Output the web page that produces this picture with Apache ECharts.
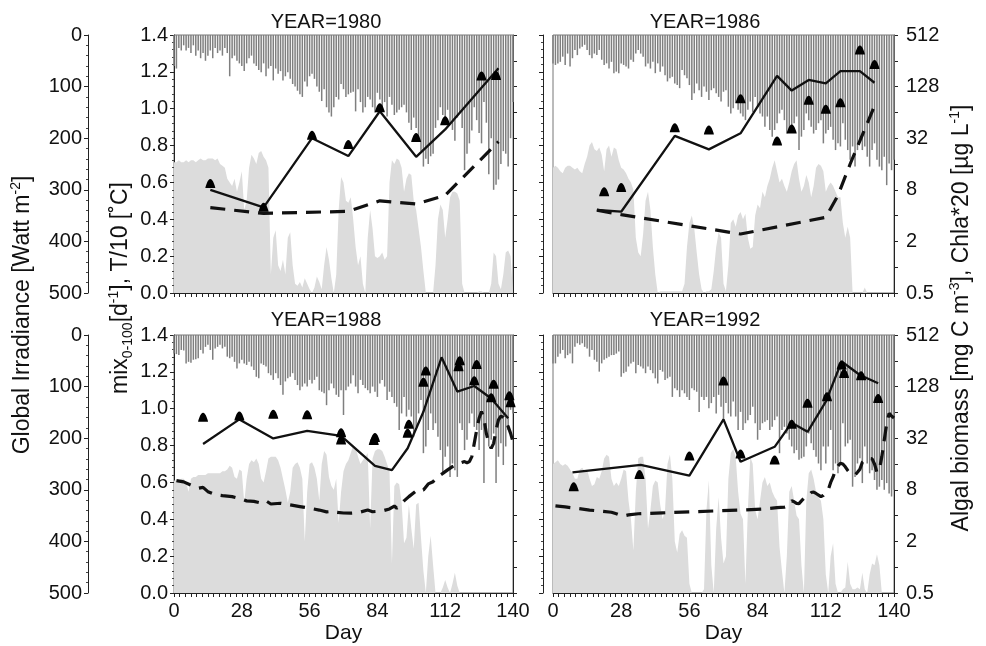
<!DOCTYPE html>
<html>
<head>
<meta charset="utf-8">
<script src="https://cdn.jsdelivr.net/npm/echarts@6/dist/echarts.min.js"></script>
<style>
  html, body { margin: 0; padding: 0; background: #fff; }
  #chart { width: 986px; height: 646px; }
</style>
</head>
<body>
<div id="chart"></div>
<script>
// ---- Data (day index = array index for daily series) ----
const YEARS = ['1980', '1986', '1988', '1992'];

// Daily global irradiance [W m-2], day 0..140
const irr1980 = [60,65,25,30,20,30,25,35,20,40, 30,45,35,50,40,30,45,25,35,30, 40,25,35,80,45,40,50,55,60,70,
  55,45,40,55,60,68,72,55,80,65, 60,88,65,75,70,88,80,72,85,95, 100,108,115,120,90,100,80,75,85,100,
  110,128,105,140,150,158,140,120,125,95, 105,120,115,112,110,148,105,130,150,140, 120,125,140,150,112,125,140,130,158,120,
  135,155,150,145,140,135,150,170,184,160, 180,205,225,255,240,250,235,230,180,165, 140,155,160,145,170,184,205,160,150,180,
  262,230,210,185,140,165,190,210,130,170, 270,200,300,290,280,250,225,230,255,200, 130];
const irr1986 = [55,58,55,52,42,58,36,61,45,29, 39,26,23,19,29,39,45,36,39,29, 48,58,55,65,52,74,71,74,55,58,
  61,65,48,52,36,29,36,42,61,55, 65,52,74,55,71,61,78,90,84,81, 94,97,103,68,78,84,97,126,113,94,
  107,120,100,110,126,107,103,113,120,129, 110,107,139,152,142,132,145,152,158,165, 145,129,149,120,139,152,158,178,158,184,
  197,184,171,152,145,165,191,184,178,171, 158,223,197,184,152,165,178,191,184,171, 165,210,191,184,178,203,223,210,216,171,
  203,223,242,216,255,223,203,223,216,236, 255,223,210,242,255,262,236,291,249,262, 242];
const irr1988 = [36,37,39,29,30,55,52,54,48,47, 45,29,36,23,19,29,48,26,23,19, 26,23,42,45,42,52,65,55,48,55,
  58,52,61,68,81,84,55,58,61,74, 78,87,74,84,97,116,90,84,81,74, 87,97,107,100,94,100,87,94,87,81,
  107,110,113,136,107,94,103,116,120,107, 155,107,100,94,78,100,113,87,97,103, 107,113,100,110,120,94,87,100,126,110,
  120,132,139,184,152,120,158,145,158,197, 178,152,126,229,216,184,152,184,171,197, 223,268,236,216,275,249,262,275,171,184,
  223,203,171,152,178,184,223,184,287,184, 216,203,191,287,236,210,252,216,184,145, 152];
const irr1992 = [55,55,42,36,29,45,39,36,55,23, 16,19,16,23,26,42,29,48,52,71, 55,48,45,42,39,39,36,32,81,74,
  71,61,55,52,74,58,61,65,74,61, 68,74,84,94,68,71,87,84,81,120, 103,107,120,107,113,120,126,103,107,110,
  149,120,126,120,142,132,120,152,116,139, 165,132,152,158,129,158,184,149,184,171, 165,155,139,171,203,184,171,168,165,184,
  178,165,158,229,184,178,191,203,216,229, 223,242,239,236,216,191,210,223,236,249, 262,216,249,216,184,262,249,268,249,171,
  216,210,203,294,275,249,239,287,216,249, 268,262,281,300,294,281,300,287,307,313, 300];

// Daily mixing rate mix0-100 [d-1], day 0..140
const mix1980 = [0.71,0.71,0.72,0.71,0.71,0.72,0.71,0.72,0.72,0.71, 0.72,0.73,0.72,0.72,0.73,0.73,0.73,0.72,0.73,0.70,
  0.69,0.68,0.62,0.60,0.58,0.62,0.55,0.60,0.66,0.45, 0.50,0.68,0.75,0.73,0.70,0.76,0.77,0.74,0.72,0.68,
  0.10,0.30,0.34,0.15,0.12,0.18,0.10,0.30,0.33,0.15, 0.05,0.04,0.06,0.03,0.08,0.05,0.02,0.00,0.03,0.09,
  0.06,0.02,0.15,0.25,0.18,0.08,0.00,0.10,0.45,0.63, 0.60,0.50,0.49,0.52,0.40,0.25,0.15,0.20,0.05,0.00,
  0.30,0.45,0.35,0.20,0.19,0.20,0.22,0.18,0.20,0.60, 0.72,0.70,0.73,0.72,0.68,0.55,0.62,0.65,0.64,0.50,
  0.45,0.35,0.25,0.12,0.00,0.00,0.00,0.00,0.15,0.40, 0.48,0.45,0.30,0.40,0.52,0.55,0.55,0.54,0.50,0.05,
  0,0,0,0,0,0,0.01,0.01,0,0, 0,0.05,0.22,0.20,0.05,0.02,0.10,0.22,0.23,0.20, 0];
const mix1986 = [0.68,0.69,0.68,0.66,0.65,0.68,0.69,0.69,0.68,0.67, 0.68,0.66,0.65,0.70,0.74,0.80,0.82,0.78,0.77,0.79,
  0.75,0.66,0.78,0.80,0.74,0.79,0.78,0.72,0.68,0.67, 0.65,0.62,0.60,0.56,0.30,0.22,0.20,0.32,0.50,0.55,
  0.45,0.25,0.10,0.00,0.01,0.01,0.01,0.01,0.01,0.01, 0.01,0.01,0.01,0.01,0.05,0.25,0.38,0.42,0.35,0.22,
  0.10,0.02,0.00,0.01,0.01,0.02,0.12,0.25,0.33,0.30, 0.05,0.01,0.15,0.38,0.40,0.36,0.42,0.44,0.40,0.43,
  0.30,0.24,0.25,0.42,0.48,0.46,0.55,0.52,0.58,0.62, 0.68,0.72,0.66,0.60,0.62,0.58,0.55,0.60,0.66,0.70,
  0.72,0.62,0.55,0.58,0.64,0.60,0.52,0.58,0.68,0.70, 0.69,0.66,0.55,0.58,0.60,0.58,0.55,0.52,0.52,0.38,
  0.30,0.36,0.30,0.00,0,0,0,0,0.03,0, 0,0,0,0,0,0,0,0,0,0, 0];
const mix1988 = [0.61,0.61,0.61,0.62,0.62,0.60,0.55,0.62,0.63,0.63, 0.64,0.64,0.64,0.64,0.65,0.65,0.65,0.65,0.65,0.65,
  0.66,0.66,0.67,0.69,0.68,0.63,0.62,0.67,0.66,0.49, 0.62,0.70,0.72,0.71,0.73,0.70,0.62,0.60,0.66,0.73,
  0.74,0.74,0.74,0.72,0.68,0.62,0.56,0.49,0.55,0.68, 0.70,0.71,0.68,0.62,0.28,0.55,0.70,0.71,0.68,0.62,
  0.50,0.70,0.77,0.75,0.63,0.58,0.56,0.62,0.38,0.55, 0.66,0.70,0.72,0.76,0.80,0.79,0.74,0.70,0.72,0.74,
  0.76,0.35,0.73,0.77,0.78,0.78,0.77,0.74,0.70,0.66, 0.16,0.58,0.60,0.59,0.49,0.27,0.30,0.48,0.35,0.24,
  0.48,0.49,0.30,0.12,0.00,0.20,0.31,0.15,0.00,0.00, 0.00,0.03,0.07,0.03,0.00,0.05,0.11,0.04,0,0,
  0,0,0,0,0,0,0,0,0,0, 0,0,0,0,0,0,0,0,0,0, 0];
const mix1992 = [0.70,0.71,0.72,0.70,0.69,0.70,0.69,0.67,0.65,0.62, 0.62,0.67,0.68,0.66,0.67,0.62,0.58,0.59,0.63,0.62,
  0.66,0.73,0.75,0.74,0.62,0.58,0.60,0.58,0.62,0.67, 0.66,0.50,0.40,0.23,0.55,0.73,0.74,0.74,0.62,0.35,
  0.45,0.58,0.61,0.60,0.48,0.40,0.45,0.70,0.75,0.62, 0.28,0.22,0.32,0.34,0.31,0.30,0.05,0,0,0,
  0,0,0.02,0.45,0.61,0.15,0,0.35,0.52,0.30, 0.16,0.20,0.62,0.76,0.78,0.74,0.55,0.43,0.40,0.05,
  0.45,0.74,0.70,0.45,0.40,0.50,0.60,0.63,0.58,0.60, 0.55,0.52,0.50,0.25,0.12,0,0.20,0.55,0.58,0.50,
  0.42,0.40,0.15,0,0.50,0.65,0.67,0.62,0.55,0.52, 0.50,0.40,0.10,0,0.20,0.27,0.05,0,0,0.02,
  0.03,0.17,0.05,0.02,0.02,0.03,0.02,0.11,0.02,0, 0.10,0.16,0.15,0.21,0.15,0,0,0,0,0, 0];

// Water temperature T/10 [°C] as [day, value]
const temp1980 = [[15,0.463],[37,0.432],[72,0.443],[85,0.50],[100,0.483],[112,0.530],[134,0.821]];
const temp1986 = [[18,0.45],[28,0.425],[77,0.32],[112,0.411],[117,0.53],[122,0.70],[132,1.015]];
const temp1988 = [[1,0.61],[4,0.603],[7,0.585],[10,0.568],[12,0.573],[14,0.55],[17,0.534],[20,0.528],[24,0.523],
  [27,0.513],[30,0.50],[33,0.497],[36,0.488],[38,0.50],[40,0.483],[44,0.487],[48,0.478],[52,0.469],[56,0.46],
  [60,0.45],[63,0.44],[64,0.441],[65,0.436],[66,0.44],[70,0.434],[73,0.433],[76,0.436],[80,0.45],[82,0.441],
  [86,0.445],[89,0.456],[91,0.472],[92,0.46],[93,0.47],[95,0.50],[97,0.523],[100,0.554],[101,0.563],[103,0.559],
  [105,0.592],[107,0.604],[109,0.631],[111,0.649],[113,0.668],[115,0.686],[117,0.70],[120,0.713],[121,0.707],
  [122,0.713],[123,0.74],[124,0.812],[125,0.885],[126,0.948],[127,0.984],[128,0.948],[129,0.866],[130,0.812],
  [131,0.785],[132,0.812],[133,0.885],[134,0.939],[135,0.96],[136,0.953],[137,0.93],[138,0.903],[139,0.866],[140,0.821]];
const temp1992 = [[1,0.473],[5,0.467],[10,0.459],[15,0.45],[20,0.444],[24,0.438],[26,0.43],[28,0.42],[29,0.418],
  [31,0.424],[35,0.43],[45,0.435],[56,0.44],[66,0.445],[77,0.45],[86,0.456],[92,0.463],[95,0.466],[96,0.47],
  [97,0.485],[98,0.50],[99,0.495],[100,0.486],[101,0.485],[102,0.50],[103,0.514],[104,0.52],[106,0.545],[107,0.548],
  [108,0.54],[110,0.523],[111,0.53],[112,0.545],[113,0.56],[114,0.60],[115,0.63],[116,0.67],[117,0.69],[118,0.704],
  [119,0.70],[120,0.685],[121,0.665],[122,0.65],[124,0.64],[125,0.655],[126,0.672],[127,0.71],[129,0.731],
  [131,0.728],[132,0.70],[133,0.655],[134,0.67],[135,0.74],[136,0.83],[137,0.92],[138,0.975],[139,0.96],[140,0.95]];

// Simulated algal biomass [mg C m-3] as [day, value]
const model1980 = [[15,8],[37,5],[57,32],[72,19.8],[85,66],[100,19.4],[112,40.5],[134,209]];
const model1986 = [[18,4.65],[28,4.44],[50,34],[64,23.7],[77,36.5],[92,171],[98,115],[105,153],[112,140],[118,194],[126,194],[132,142]];
const model1988 = [[12,27.4],[27,53],[41,31.8],[55,39],[69,34],[83,15.2],[90,13.6],[96.5,24.4],[103,65],[110.5,281],[117,112],[124,130],[131,93],[138,54.6]];
const model1992 = [[8,12.8],[36,15.6],[56,11.7],[70,53],[77,17],[91,25.4],[98,48.5],[104.5,38],[112,85.6],[118.5,251],[126,175],[133.5,140]];

// Observed Chla*20 [µg L-1] as [day, value]
const obs1980 = [[15,9.5],[37,5],[57,34.6],[72,27],[85,72.6],[100,32.7],[112,51],[127,170],[133,173]];
const obs1986 = [[21,7.6],[28,8.5],[50,42.5],[64,40],[77,92.6],[92,29.7],[98,41],[105,89],[112,69.5],[118,83],[126,342],[132,231]];
const obs1988 = [[12,56],[27,58],[41,61],[55,60],[69,37],[69,30.4],[83,32.7],[82.5,30],[97,46.5],[96.5,36.5],[104,194],[103,144],
  [118,257],[117.5,218],[125,232],[124,150],[132,136],[131,95],[138.5,100],[139,83]];
const obs1992 = [[8.5,8.7],[35.5,12.1],[56,19.8],[70,149],[77,21],[91,17.8],[98,46.5],[104.5,81.6],[112.5,97.7],[118.5,229],[119.5,182],[126.5,171],[133.5,93]];

// Axis ticks
const DAY_TICKS = { min: 0, max: 140, interval: 28 };
const MIX_TICKS = { min: 0, max: 1.4, interval: 0.2 };
const IRR_TICKS = { min: 0, max: 500, interval: 100 };
const LOG_TICKS = [0.5, 1, 2, 4, 8, 16, 32, 64, 128, 256, 512];
const LOG_LABELS = [0.5, 2, 8, 32, 128, 512];

const panels = [
  { year: YEARS[0], irr: irr1980, mix: mix1980, temp: temp1980, model: model1980, obs: obs1980 },
  { year: YEARS[1], irr: irr1986, mix: mix1986, temp: temp1986, model: model1986, obs: obs1986 },
  { year: YEARS[2], irr: irr1988, mix: mix1988, temp: temp1988, model: model1988, obs: obs1988 },
  { year: YEARS[3], irr: irr1992, mix: mix1992, temp: temp1992, model: model1992, obs: obs1992 }
];

// ---- Layout ----
const FONT = '"Liberation Sans", Arial, Helvetica, sans-serif';
const INK = '#111';
const gridBoxes = [
  { left: 174, top: 35, width: 339, height: 258 },
  { left: 553, top: 35, width: 341, height: 258 },
  { left: 174, top: 335, width: 339, height: 258 },
  { left: 553, top: 335, width: 341, height: 258 }
];
const titlePos = [[326, 22], [705, 22], [326, 320], [705, 320]];
// observation marker: small bell-shaped blob
const OBS_SYMBOL = 'path://M5,0 Q7,0 8.6,4.5 Q10,8 10,9 L0,9 Q0,8 1.4,4.5 Q3,0 5,0 Z';

const grid = [], xAxis = [], yAxis = [], series = [], graphic = [];
const lbl = { fontFamily: FONT, fontSize: 20, color: INK };
const axLine = { show: true, onZero: false, lineStyle: { color: '#222', width: 1 } };

panels.forEach((p, i) => {
  const leftCol = i % 2 === 0;
  const bottomRow = i >= 2;
  grid.push(Object.assign({ show: true, borderColor: '#777', borderWidth: 1, containLabel: false }, gridBoxes[i]));

  xAxis.push({
    type: 'value', gridIndex: i, min: DAY_TICKS.min, max: DAY_TICKS.max, interval: DAY_TICKS.interval,
    axisLine: axLine,
    axisTick: { show: true, length: 4, lineStyle: { color: '#222' } },
    minorTick: { show: true, splitNumber: 12, length: 4, lineStyle: { color: '#222' } },
    splitLine: { show: false }, minorSplitLine: { show: false },
    axisLabel: Object.assign({ show: bottomRow, margin: 8 }, lbl),
    name: bottomRow ? 'Day' : '', nameLocation: 'middle', nameGap: 30,
    nameTextStyle: { fontFamily: FONT, fontSize: 21, color: INK }
  });

  // mixing / temperature axis
  yAxis.push({
    type: 'value', gridIndex: i, min: MIX_TICKS.min, max: MIX_TICKS.max, interval: MIX_TICKS.interval,
    position: 'left', offset: leftCol ? 0 : 10,
    axisLine: axLine,
    axisTick: { show: true, length: 4, lineStyle: { color: '#222' } },
    minorTick: { show: true, splitNumber: 5, length: 2, lineStyle: { color: '#444' } },
    splitLine: { show: false },
    axisLabel: Object.assign({ show: leftCol, margin: 6, formatter: v => v.toFixed(1) }, lbl)
  });
  // biomass axis (log2)
  yAxis.push({
    type: 'log', logBase: 2, gridIndex: i, min: 0.5, max: 512, position: 'right',
    axisLine: axLine,
    axisTick: { show: true, length: 4, customValues: LOG_TICKS, lineStyle: { color: '#222' } },
    splitLine: { show: false },
    axisLabel: Object.assign({ show: !leftCol, margin: 12, customValues: LOG_LABELS,
      formatter: v => (v < 1 ? '0.5' : String(Math.round(v))) }, lbl)
  });
  // irradiance axis (inverted)
  yAxis.push({
    type: 'value', gridIndex: i, min: IRR_TICKS.min, max: IRR_TICKS.max, interval: IRR_TICKS.interval,
    inverse: true, position: 'left', offset: 86, show: leftCol,
    axisLine: axLine,
    axisTick: { show: true, length: 4, lineStyle: { color: '#222' } },
    minorTick: { show: true, splitNumber: 5, length: 2, lineStyle: { color: '#444' } },
    splitLine: { show: false },
    axisLabel: Object.assign({ margin: 6 }, lbl)
  });

  const yMix = 3 * i, yLog = 3 * i + 1, yIrr = 3 * i + 2;

  series.push({
    type: 'line', xAxisIndex: i, yAxisIndex: yMix, silent: true, z: 1,
    data: p.mix.map((v, d) => [d, v]), symbol: 'none',
    lineStyle: { width: 0, color: '#dcdcdc' }, itemStyle: { color: '#dcdcdc' },
    areaStyle: { color: '#dcdcdc', opacity: 1 }
  });
  series.push({
    type: 'bar', xAxisIndex: i, yAxisIndex: yIrr, silent: true, z: 2,
    data: p.irr.map((v, d) => [d, v]), barWidth: 1.5,
    itemStyle: { color: '#7f7f7f' }
  });
  series.push({
    type: 'line', xAxisIndex: i, yAxisIndex: yMix, silent: true, z: 3,
    data: p.temp, symbol: 'none',
    lineStyle: { color: INK, width: 3.2, type: [15, 9] }
  });
  series.push({
    type: 'line', xAxisIndex: i, yAxisIndex: yLog, silent: true, z: 4,
    data: p.model, symbol: 'none',
    lineStyle: { color: INK, width: 2.3 }
  });
  series.push({
    type: 'scatter', xAxisIndex: i, yAxisIndex: yLog, silent: true, z: 5,
    data: p.obs, symbol: OBS_SYMBOL,
    symbolSize: [10, 9], itemStyle: { color: '#000', opacity: 1, borderWidth: 0 }
  });

  graphic.push({
    type: 'text', x: titlePos[i][0], y: titlePos[i][1],
    style: { text: 'YEAR=' + p.year, font: '20px ' + FONT, fill: INK, textAlign: 'center', textVerticalAlign: 'middle' }
  });
});

const rich = {
  n: { fontFamily: FONT, fontSize: 23, color: INK, lineHeight: 28 },
  sup: { fontFamily: FONT, fontSize: 14, color: INK, verticalAlign: 'top', lineHeight: 28 },
  sub: { fontFamily: FONT, fontSize: 14, color: INK, verticalAlign: 'bottom', lineHeight: 28 }
};
function axisTitle(x, y, text) {
  return {
    type: 'text', x: x, y: y, rotation: Math.PI / 2,
    style: { text: text, rich: rich, textAlign: 'center', textVerticalAlign: 'middle', font: '23px ' + FONT, fill: INK }
  };
}
graphic.push(axisTitle(23, 315, '{n|Global Irradiance [Watt m}{sup|-2}{n|]}'));
graphic.push(axisTitle(121, 288, '{n|mix}{sub|0-100}{n|[d}{sup|-1}{n|], T/10 [˚C]}'));
graphic.push(axisTitle(962, 318, '{n|Algal biomass [mg C m}{sup|-3}{n|], Chla*20 [µg L}{sup|-1}{n|]}'));

const chart = echarts.init(document.getElementById('chart'), null, { renderer: 'canvas' });
chart.setOption({
  animation: false,
  backgroundColor: '#fff',
  grid: grid, xAxis: xAxis, yAxis: yAxis, series: series, graphic: graphic
});
</script>
</body>
</html>
